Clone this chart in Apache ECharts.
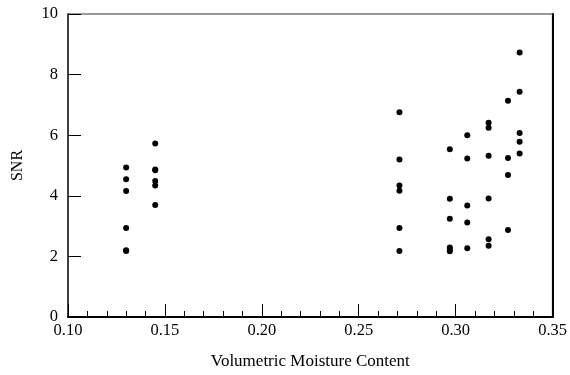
<!DOCTYPE html>
<html><head><meta charset="utf-8">
<script src="https://cdn.jsdelivr.net/npm/echarts@6/dist/echarts.min.js"></script>
<style>html,body{margin:0;padding:0;background:#fff}#c{width:570px;height:375px}</style>
</head><body><div id="c"></div>
<script>
// Volumetric moisture content (x) and SNR (y) readings
const moisture = [
  0.130,0.130,0.130,0.130,0.130,0.130,
  0.145,0.145,0.145,0.145,0.145,0.145,
  0.271,0.271,0.271,0.271,0.271,0.271,
  0.297,0.297,0.297,0.297,0.297,0.297,
  0.306,0.306,0.306,0.306,0.306,
  0.317,0.317,0.317,0.317,0.317,0.317,
  0.327,0.327,0.327,0.327,
  0.333,0.333,0.333,0.333,0.333
];
const snr = [
  4.93,4.55,4.16,2.94,2.18,2.20,
  5.73,4.87,4.84,4.49,4.34,3.70,
  6.76,5.20,4.34,4.17,2.94,2.18,
  5.54,3.90,3.24,2.29,2.23,2.17,
  6.00,5.23,3.68,3.12,2.27,
  6.41,6.25,5.32,3.91,2.57,2.35,
  7.14,5.25,4.69,2.87,
  8.73,7.43,6.07,5.78,5.40
];
const xTicks = [0.10,0.15,0.20,0.25,0.30,0.35];
const yTicks = [0,2,4,6,8,10];

const font = 'Liberation Serif';
const chart = echarts.init(document.getElementById('c'));
chart.setOption({
  animation:false,
  grid:{left:68,right:14,top:14,bottom:55,show:true,borderColor:'#777',borderWidth:1.5},
  xAxis:[{
    type:'value',min:xTicks[0],max:xTicks[xTicks.length-1],interval:0.05,
    name:'Volumetric Moisture Content',nameLocation:'middle',nameGap:36,
    nameTextStyle:{fontFamily:font,fontSize:17,color:'#000'},
    axisLine:{lineStyle:{color:'#000',width:2}},
    axisTick:{inside:true,length:13,lineStyle:{color:'#000',width:1}},
    minorTick:{show:true,splitNumber:5,length:6,lineStyle:{color:'#000',width:1}},
    splitLine:{show:false},
    axisLabel:{fontFamily:font,fontSize:16.5,color:'#000',margin:5,formatter:v=>v.toFixed(2)}
  }],
  yAxis:[{
    type:'value',min:yTicks[0],max:yTicks[yTicks.length-1],interval:2,
    name:'SNR',nameLocation:'middle',nameGap:42,nameRotate:90,
    nameTextStyle:{fontFamily:font,fontSize:16,color:'#000'},
    axisLine:{lineStyle:{color:'#222',width:1.5}},
    axisTick:{inside:true,length:13,lineStyle:{color:'#000',width:1}},
    splitLine:{show:false},
    axisLabel:{fontFamily:font,fontSize:16.5,color:'#000',margin:10}
  },{
    type:'value',position:'right',min:yTicks[0],max:yTicks[yTicks.length-1],interval:2,
    axisLine:{show:true,lineStyle:{color:'#000',width:2}},
    axisTick:{show:false},axisLabel:{show:false},splitLine:{show:false}
  }],
  series:[{
    type:'scatter',symbol:'circle',symbolSize:6,
    itemStyle:{color:'#000',opacity:1},
    data:moisture.map((x,i)=>[x,snr[i]])
  }]
});
</script></body></html>
